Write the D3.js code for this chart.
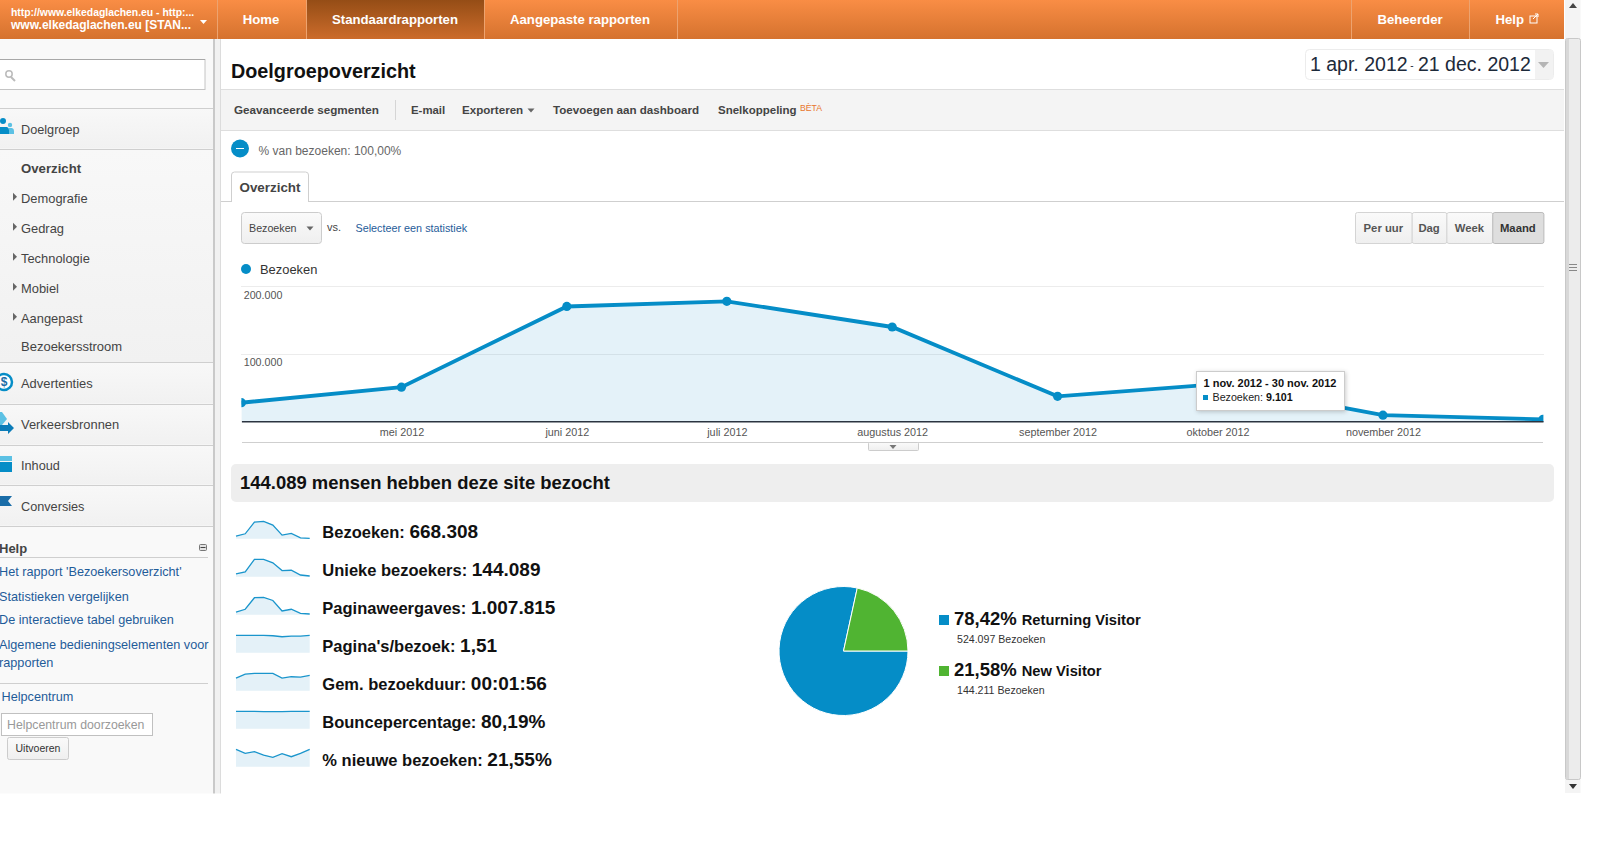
<!DOCTYPE html>
<html>
<head>
<meta charset="utf-8">
<title>Doelgroepoverzicht</title>
<script src="https://cdn.jsdelivr.net/npm/d3@7"></script>
<style>
  html, body { margin: 0; padding: 0; background: #fff; overflow: hidden; }
  svg { display: block; font-family: "Liberation Sans", Arial, sans-serif; }
  .link { fill: #1f5c99; }
</style>
</head>
<body>
<div id="page"></div>
<script>
// values
var monthStarts = ["2012-04-01", "2012-05-01", "2012-06-01", "2012-07-01", "2012-08-01", "2012-09-01", "2012-10-01", "2012-11-01", "2012-12-01"];
var visits = [27500, 50400, 169800, 177300, 139400, 36900, 55000, 9101, 2900];
var monthLabels = ["mei 2012", "juni 2012", "juli 2012", "augustus 2012", "september 2012", "oktober 2012", "november 2012"];
var yTicks = [100000, 200000];

var metricNames = ["Bezoeken:", "Unieke bezoekers:", "Paginaweergaves:", "Pagina's/bezoek:", "Gem. bezoekduur:", "Bouncepercentage:", "% nieuwe bezoeken:"];
var metricValues = ["668.308", "144.089", "1.007.815", "1,51", "00:01:56", "80,19%", "21,55%"];
var sparkUnique = [6300, 11000, 40000, 40000, 32000, 14100, 14900, 3900, 1600];
var sparkViews = [42000, 85000, 265000, 270000, 222000, 58000, 85000, 21000, 10600];
var sparkPages = [1.53, 1.53, 1.53, 1.53, 1.50, 1.41, 1.47, 1.47, 1.53];
var sparkDuration = [94, 125, 130, 130, 130, 94, 105, 102, 115];
var sparkBounce = [81, 81, 81, 80, 80, 80, 81, 81, 81];
var sparkNew = [30, 23.1, 26, 20.2, 16.2, 22.5, 17.3, 23.1, 30];

var visitorTypes = ["Returning Visitor", "New Visitor"];
var visitorCounts = [524097, 144211];
var visitorShares = ["78,42%", "21,58%"];
var visitorLabels = ["524.097 Bezoeken", "144.211 Bezoeken"];

var subMenu = ["Demografie", "Gedrag", "Technologie", "Mobiel", "Aangepast"];
var helpLinks = ["Het rapport 'Bezoekersoverzicht'", "Statistieken vergelijken", "De interactieve tabel gebruiken", "Algemene bedieningselementen voor", "rapporten"];
var intervals = ["Per uur", "Dag", "Week", "Maand"];

var BLUE = "#058dc7", GREEN = "#50b432", FILL = "#e4f1f8", TEXT = "#444";

var svg = d3.select("#page").append("svg").attr("width", 1600).attr("height", 860);
var defs = svg.append("defs");

function gradient(id, c1, c2) {
  var g = defs.append("linearGradient").attr("id", id).attr("x1", 0).attr("y1", 0).attr("x2", 0).attr("y2", 1);
  g.append("stop").attr("offset", 0).attr("stop-color", c1);
  g.append("stop").attr("offset", 1).attr("stop-color", c2);
}
gradient("bar", "#f98d45", "#d5722e");
gradient("active", "#954d16", "#cc6c2b");
gradient("side", "#f8f8f8", "#f1f1f1");
gradient("btn", "#fafafa", "#efefef");

function txt(parent, x, y, s, size, opts) {
  opts = opts || {};
  return parent.append("text").attr("x", x).attr("y", y).attr("dy", "0.35em")
    .attr("font-size", size)
    .attr("font-weight", opts.bold ? "bold" : "normal")
    .attr("fill", opts.fill || TEXT)
    .attr("text-anchor", opts.anchor || "start")
    .text(s);
}
function box(parent, x, y, w, h, fill, stroke, r) {
  return parent.append("rect").attr("x", x).attr("y", y).attr("width", w).attr("height", h)
    .attr("fill", fill).attr("stroke", stroke || "none").attr("rx", r || 0);
}
function hline(parent, x1, x2, y, color) {
  parent.append("line").attr("x1", x1).attr("x2", x2).attr("y1", y + 0.5).attr("y2", y + 0.5).attr("stroke", color);
}
function vline(parent, x, y1, y2, color) {
  parent.append("line").attr("x1", x + 0.5).attr("x2", x + 0.5).attr("y1", y1).attr("y2", y2).attr("stroke", color);
}
function tri(parent, cx, cy, w, h, color) {
  parent.append("path").attr("d", "M" + (cx - w / 2) + "," + cy + "h" + w + "l" + (-w / 2) + "," + h + "z").attr("fill", color);
}
function triRight(parent, x, cy) {
  parent.append("path").attr("d", "M" + x + "," + (cy - 4) + "l4,4l-4,4z").attr("fill", "#666");
}

// ---- top bar
var topBar = svg.append("g");
box(topBar, 0, 0, 1564, 39, "url(#bar)");
box(topBar, 306, 0, 178, 39, "url(#active)");
[217, 306, 484, 677, 1351, 1469].forEach(function(x) { vline(topBar, x, 0, 39, "#eda36f"); });
txt(topBar, 11, 12, "http://www.elkedaglachen.eu - http:...", 10.4, {bold: true, fill: "#fff"});
txt(topBar, 11, 25, "www.elkedaglachen.eu [STAN...", 12, {bold: true, fill: "#fff"});
tri(topBar, 203.5, 20, 7, 4, "#fff");
txt(topBar, 261, 19.5, "Home", 13.2, {bold: true, fill: "#fff", anchor: "middle"});
txt(topBar, 395, 19.5, "Standaardrapporten", 13.2, {bold: true, fill: "#fff", anchor: "middle"});
txt(topBar, 580, 19.5, "Aangepaste rapporten", 13.2, {bold: true, fill: "#fff", anchor: "middle"});
txt(topBar, 1410, 19.5, "Beheerder", 13.2, {bold: true, fill: "#fff", anchor: "middle"});
txt(topBar, 1524, 19.5, "Help", 13.2, {bold: true, fill: "#fff", anchor: "end"});
topBar.append("rect").attr("x", 1530).attr("y", 16).attr("width", 7).attr("height", 7).attr("fill", "none").attr("stroke", "#fff");
topBar.append("path").attr("d", "M1533,19L1538,14M1535,14h3v3").attr("fill", "none").attr("stroke", "#fff");

// ---- left menu
var side = svg.append("g");
box(side, 0, 39, 213, 754.5, "#f9f9f9");
box(side, 0, 150, 213, 212, "url(#side)");
box(side, 213, 39, 2, 754.5, "#c9c9c9");
box(side, 215, 39, 5, 754.5, "#f1f1f1");
vline(side, 220, 39, 793.5, "#dcdcdc");

box(side, -2, 59.5, 207, 30, "#fff", "#c4c4c4");
hline(side, 0, 205, 59, "#a8a8a8");
side.append("circle").attr("cx", 9).attr("cy", 74).attr("r", 3.2).attr("fill", "none").attr("stroke", "#bbb").attr("stroke-width", 1.5);
side.append("line").attr("x1", 11).attr("y1", 77).attr("x2", 15).attr("y2", 81).attr("stroke", "#bbb").attr("stroke-width", 2);

box(side, 0, 108.5, 213, 40, "url(#side)");
box(side, 0, 362.5, 213, 41, "url(#side)");
box(side, 0, 404.5, 213, 40, "url(#side)");
box(side, 0, 445.5, 213, 39, "url(#side)");
box(side, 0, 485.5, 213, 40, "url(#side)");
[108, 149, 362, 404, 445, 485, 526].forEach(function(y) { hline(side, 0, 213, y, "#cfcfcf"); });

txt(side, 21, 130, "Doelgroep", 12.7);
side.append("circle").attr("cx", 3).attr("cy", 121).attr("r", 3).attr("fill", BLUE);
side.append("circle").attr("cx", 10).attr("cy", 125).attr("r", 2.2).attr("fill", "#5cc1e4");
side.append("path").attr("d", "M0,127h7a3,3 0 0 1 2,3v4h-9z").attr("fill", BLUE);
side.append("path").attr("d", "M9,128h3a3,3 0 0 1 2,3v3h-5z").attr("fill", "#5cc1e4");

txt(side, 21, 168, "Overzicht", 13.2, {bold: true});
subMenu.forEach(function(name, i) {
  var rowY = 198.3 + i * 30;
  txt(side, 21, rowY, name, 12.9);
  triRight(side, 13, rowY - 1.5);
});
txt(side, 21, 346.5, "Bezoekersstroom", 13);

txt(side, 21, 383.5, "Advertenties", 12.9);
side.append("circle").attr("cx", 4).attr("cy", 382).attr("r", 8).attr("fill", "#fff").attr("stroke", BLUE).attr("stroke-width", 2.5);
txt(side, 4, 382, "$", 12, {bold: true, fill: "#1a6da8", anchor: "middle"});
txt(side, 21, 424.5, "Verkeersbronnen", 12.9);
side.append("path").attr("d", "M0,412h2l5,7l-5,6h-2z").attr("fill", "#5cc1e4");
side.append("path").attr("d", "M0,425h8v-3l6,6l-6,6v-3h-8z").attr("fill", "#0b7cb8");
txt(side, 21, 465.5, "Inhoud", 12.7);
box(side, 0, 456, 12, 5, "#5cc1e4");
box(side, 0, 462, 12, 10, BLUE);
txt(side, 21, 506.5, "Conversies", 12.7);
side.append("path").attr("d", "M0,496h12l-4,5l4,5h-12z").attr("fill", "#1a6da8");

txt(side, -1, 548, "Help", 13, {bold: true});
box(side, 199.5, 544.5, 7, 6, "#e3e3e3", "#777", 1);
hline(side, 200.5, 205.5, 547, "#444");
hline(side, 0, 208, 557, "#cfcfcf");
[572, 597, 620, 645, 663].forEach(function(rowY, i) {
  txt(side, -1, rowY, helpLinks[i], 12.7).attr("class", "link").attr("fill", null);
});
hline(side, 0, 208, 683, "#cfcfcf");
txt(side, 1.5, 697, "Helpcentrum", 12.7).attr("class", "link").attr("fill", null);
box(side, 1.5, 713.5, 151, 22, "#fff", "#c0c0c0");
txt(side, 7, 724.5, "Helpcentrum doorzoeken", 12.3, {fill: "#999"});
box(side, 7.5, 737.5, 61, 22, "url(#btn)", "#ccc", 2);
txt(side, 38, 748, "Uitvoeren", 10.5, {fill: "#333", anchor: "middle"});

// ---- report header
var head = svg.append("g");
txt(head, 231, 71, "Doelgroepoverzicht", 19.8, {bold: true, fill: "#111"});
box(head, 1305.5, 49.5, 248, 30, "#fff", "#ececec", 4);
box(head, 1535, 50, 18, 29, "#f2f2f2");
txt(head, 1310, 64.5, "1 apr. 2012", 19.5, {fill: "#1d2a3a"});
txt(head, 1412, 65.5, "-", 10, {fill: "#1d2a3a", anchor: "middle"});
txt(head, 1418, 64.5, "21 dec. 2012", 19.5, {fill: "#1d2a3a"});
tri(head, 1543.5, 62, 11, 6, "#b5b5b5");

box(head, 221, 89.5, 1343, 41, "#f4f4f4");
hline(head, 221, 1564, 89, "#dedede");
hline(head, 221, 1564, 130, "#dedede");
txt(head, 234, 110, "Geavanceerde segmenten", 11.7, {bold: true});
vline(head, 395, 100, 120, "#d5d5d5");
txt(head, 411, 110, "E-mail", 11.4, {bold: true});
txt(head, 462, 110, "Exporteren", 11.6, {bold: true});
tri(head, 531, 108.5, 7, 4, "#666");
txt(head, 553, 110, "Toevoegen aan dashboard", 11.6, {bold: true});
txt(head, 718, 110, "Snelkoppeling", 11.5, {bold: true});
txt(head, 800, 108, "BÈTA", 8.7, {fill: "#e8752c"});

head.append("circle").attr("cx", 240).attr("cy", 148.5).attr("r", 9).attr("fill", BLUE);
box(head, 236, 148, 8, 1, "#fff");
txt(head, 258.5, 150.5, "% van bezoeken: 100,00%", 12, {fill: "#666"});

hline(head, 221, 1564, 201, "#cfcfcf");
head.append("path").attr("d", "M231.5,202v-27a3,3 0 0 1 3,-3h71a3,3 0 0 1 3,3v27").attr("fill", "#fff").attr("stroke", "#cfcfcf");
txt(head, 270, 187, "Overzicht", 13.4, {bold: true, anchor: "middle"});

box(head, 241.5, 212.5, 80, 31, "url(#btn)", "#ccc", 3);
txt(head, 249, 228, "Bezoeken", 10.7);
tri(head, 310, 226.5, 7, 4, "#666");
txt(head, 327, 227, "vs.", 11);
txt(head, 355.5, 228, "Selecteer een statistiek", 10.8, {fill: "#1f5c99"});

// interval buttons
var btnEdges = [1355, 1411.7, 1446.4, 1492.3, 1543.4];
intervals.forEach(function(name, i) {
  var on = i === 3;
  box(head, btnEdges[i] + 0.5, 212.5, btnEdges[i + 1] - btnEdges[i], 31, on ? "#dedede" : "url(#btn)", on ? "#bbb" : "#d4d4d4", 2);
  txt(head, (btnEdges[i] + btnEdges[i + 1]) / 2, 228, name, 11.3, {bold: true, fill: on ? "#333" : "#555", anchor: "middle"});
});

// ---- main line chart
var dates = monthStarts.map(d3.timeParse("%Y-%m-%d"));
var x = d3.scaleTime().domain([dates[0], dates[dates.length - 1]]).range([241.4, 1543]);
var y = d3.scaleLinear().domain([0, 200000]).range([421.3, 286]);

var chart = svg.append("g");
chart.append("circle").attr("cx", 246).attr("cy", 269).attr("r", 5).attr("fill", BLUE);
txt(chart, 260, 269.3, "Bezoeken", 12.9, {fill: "#333"});

defs.append("clipPath").attr("id", "plot").append("rect").attr("x", 241.4).attr("y", 280).attr("width", 1302).attr("height", 142);

yTicks.forEach(function(v) {
  hline(chart, 241, 1544, Math.round(y(v)), "#ececec");
  txt(chart, 243.7, y(v) + 8.8, d3.format(",")(v).replace(/,/g, "."), 10.7, {fill: "#555"});
});

var plot = chart.append("g").attr("clip-path", "url(#plot)");
var points = dates.map(function(d, i) { return {date: d, value: visits[i]}; });
plot.append("path").datum(points).attr("fill", BLUE).attr("fill-opacity", 0.11)
  .attr("d", d3.area().x(function(d) { return x(d.date); }).y0(y(0)).y1(function(d) { return y(d.value); }));
plot.append("path").datum(points).attr("fill", "none").attr("stroke", BLUE).attr("stroke-width", 3.9)
  .attr("d", d3.line().x(function(d) { return x(d.date); }).y(function(d) { return y(d.value); }));
plot.selectAll("circle").data(points).enter().append("circle")
  .attr("cx", function(d) { return x(d.date); }).attr("cy", function(d) { return y(d.value); })
  .attr("r", 4.6).attr("fill", BLUE);

var axis = d3.axisBottom(x).tickValues(dates.slice(1, 8)).tickSize(0).tickPadding(0)
  .tickFormat(function(d, i) { return monthLabels[i]; });
var axisG = chart.append("g").attr("transform", "translate(0," + y(0) + ")").call(axis);
axisG.attr("font-family", null);
axisG.select(".domain").attr("stroke", "#2b3440").attr("stroke-width", 1.4);
axisG.selectAll("text").attr("y", 11).attr("dy", "0.35em").attr("font-size", 10.8).attr("fill", "#555");

hline(chart, 242, 1543, 442, "#cfcfcf");
box(chart, 868.5, 442.5, 50, 8, "url(#btn)", "#ccc", 1);
tri(chart, 893, 445, 7, 4, "#777");

// tooltip
var tip = svg.append("g");
box(tip, 1196.5, 371.5, 148, 39, "#fff", "#ccc").style("filter", "drop-shadow(1px 1px 2px rgba(0,0,0,0.2))");
txt(tip, 1203.5, 383.5, "1 nov. 2012 - 30 nov. 2012", 11, {bold: true, fill: "#111"});
box(tip, 1203, 395, 5, 5, BLUE);
var tipLine = txt(tip, 1212.5, 397.5, "Bezoeken: ", 10.7, {fill: "#222"});
tipLine.append("tspan").attr("font-weight", "bold").attr("fill", "#111").text(d3.format(",")(visits[7]).replace(/,/g, "."));

// ---- summary band
var band = svg.append("g");
box(band, 231, 464, 1323, 38, "#eeeeee", null, 5);
txt(band, 240, 483, "144.089 mensen hebben deze site bezocht", 18.45, {bold: true, fill: "#111"});

// ---- metric rows with sparklines
var sparkSeries = [visits, sparkUnique, sparkViews, sparkPages, sparkDuration, sparkBounce, sparkNew];
var sparkX = d3.scaleLinear().domain([0, 8]).range([236, 309.7]);

metricNames.forEach(function(name, i) {
  var series = sparkSeries[i];
  var base = 538.7 + i * 38;
  var sy = d3.scaleLinear().domain([0, d3.max(series)]).range([base, base - 17.3]);
  var row = svg.append("g");
  row.append("path").datum(series).attr("fill", FILL)
    .attr("d", d3.area().x(function(d, j) { return sparkX(j); }).y0(base).y1(function(d) { return sy(d); }));
  row.append("path").datum(series).attr("fill", "none").attr("stroke", "#1a95cc").attr("stroke-width", 1.3)
    .attr("d", d3.line().x(function(d, j) { return sparkX(j); }).y(function(d) { return sy(d); }));
  var label = txt(row, 322.3, 532 + i * 38, name + " ", 16.5, {bold: true, fill: "#111"});
  label.append("tspan").attr("font-size", 19).text(metricValues[i]);
});

// ---- visitor pie
var pie = d3.pie().sort(null).startAngle(Math.PI / 2).endAngle(Math.PI * 2.5);
var arc = d3.arc().innerRadius(0).outerRadius(64.5);
var pieColors = [BLUE, GREEN];
svg.append("g").attr("transform", "translate(843.5,651)")
  .selectAll("path").data(pie(visitorCounts)).enter().append("path")
  .attr("d", arc).attr("fill", function(d, i) { return pieColors[i]; })
  .attr("stroke", "#fff").attr("stroke-width", 1);

visitorTypes.forEach(function(name, i) {
  var rowTop = 615 + i * 51;
  var row = svg.append("g");
  box(row, 939, rowTop, 10, 10, pieColors[i]);
  var share = txt(row, 954, rowTop + 4, visitorShares[i], 18.5, {bold: true, fill: "#111"});
  share.append("tspan").attr("dx", 5).attr("font-size", 14.7).text(name);
  txt(row, 957, rowTop + 24.5, visitorLabels[i], 10.6, {fill: "#333"});
});

// ---- page scrollbar
var scrollBar = svg.append("g");
box(scrollBar, 1565, 0, 15.5, 793, "#f4f4f4");
box(scrollBar, 1565.5, 38.5, 15, 741, "#ececec", "#c8c8c8", 2);
box(scrollBar, 1566, 39, 3, 740, "#d8d8d8");
scrollBar.append("path").attr("d", "M1569,8h8l-4,-5z").attr("fill", "#444");
tri(scrollBar, 1573, 784, 8, 5, "#333");
[264, 267, 270].forEach(function(v) { hline(scrollBar, 1569, 1577, v, "#888"); });
</script>
</body>
</html>
